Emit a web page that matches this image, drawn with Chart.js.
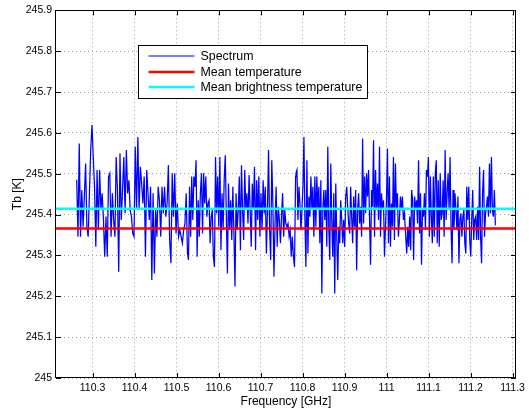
<!DOCTYPE html>
<html>
<head>
<meta charset="utf-8">
<script src="https://cdn.jsdelivr.net/npm/chart.js@4.4.1/dist/chart.umd.min.js"></script>
<style>
    html, body { margin: 0; padding: 0; background: #ffffff; }
</style>
</head>
<body>
<canvas id="spectrumChart" width="529" height="410"></canvas>
<script>
// Axis limits and tick values
const xMin = 110.213;
const xMax = 111.308;
const yMin = 245;
const yMax = 245.9;
const xTicks = [110.3, 110.4, 110.5, 110.6, 110.7, 110.8, 110.9, 111, 111.1, 111.2, 111.3];
const yTicks = [245, 245.1, 245.2, 245.3, 245.4, 245.5, 245.6, 245.7, 245.8, 245.9];

// Mean levels [K]
const meanTemperature = 245.366;
const meanBrightness = 245.414;

// Spectrum in four stretches: [start GHz, end GHz]
const partRanges = [
    [110.2623, 110.5260],
    [110.5284, 110.7834],
    [110.7843, 111.0424],
    [111.0433, 111.2590]
];

const spectrumPart1 = [
    245.485, 245.346, 245.574, 245.346, 245.460, 245.370, 245.444, 245.525, 245.370, 245.346,
    245.452, 245.558, 245.619, 245.541, 245.468, 245.321, 245.509, 245.362, 245.509, 245.411,
    245.452, 245.387, 245.297, 245.395, 245.297, 245.493, 245.501, 245.346, 245.452, 245.387,
    245.346, 245.541, 245.460, 245.260, 245.550, 245.387, 245.460, 245.541, 245.403, 245.558,
    245.452, 245.484, 245.411, 245.395, 245.354, 245.346, 245.566, 245.411, 245.590, 245.411,
    245.517, 245.476, 245.427, 245.493, 245.297, 245.509, 245.452, 245.387, 245.468, 245.240,
    245.452, 245.256, 245.411, 245.346, 245.468, 245.435, 245.346, 245.468, 245.403, 245.468,
    245.395, 245.427, 245.521, 245.338, 245.281, 245.501, 245.395, 245.501, 245.354, 245.427,
    245.346, 245.362, 245.346, 245.330, 245.362, 245.378, 245.452, 245.305
];

const spectrumPart2 = [
    245.289, 245.468, 245.346, 245.493, 245.387, 245.493, 245.468, 245.533, 245.297, 245.435,
    245.346, 245.452, 245.501, 245.354, 245.501, 245.427, 245.493, 245.395, 245.427, 245.435,
    245.330, 245.395, 245.411, 245.297, 245.272, 245.541, 245.403, 245.493, 245.370, 245.541,
    245.313, 245.452, 245.362, 245.484, 245.545, 245.395, 245.256, 245.476, 245.362, 245.435,
    245.338, 245.468, 245.354, 245.224, 245.452, 245.362, 245.411, 245.493, 245.313, 245.521,
    245.411, 245.338, 245.509, 245.411, 245.452, 245.378, 245.497, 245.411, 245.321, 245.476,
    245.411, 245.517, 245.313, 245.484, 245.387, 245.493, 245.346, 245.452, 245.362, 245.484,
    245.403, 245.468, 245.305, 245.411, 245.558, 245.362, 245.289, 245.533, 245.427, 245.248,
    245.378, 245.468, 245.321, 245.419, 245.387, 245.330, 245.395, 245.452, 245.346, 245.411,
    245.378, 245.370, 245.378, 245.346, 245.362, 245.297, 245.346, 245.297, 245.272, 245.493
];

const spectrumPart3 = [
    245.501, 245.509, 245.387, 245.468, 245.427, 245.362, 245.411, 245.468, 245.590, 245.387,
    245.272, 245.533, 245.305, 245.444, 245.395, 245.493, 245.411, 245.468, 245.346, 245.493,
    245.370, 245.493, 245.411, 245.468, 245.330, 245.484, 245.207, 245.411, 245.460, 245.387,
    245.460, 245.321, 245.566, 245.370, 245.289, 245.525, 245.387, 245.297, 245.452, 245.207,
    245.476, 245.346, 245.240, 245.370, 245.330, 245.435, 245.387, 245.330, 245.387, 245.321,
    245.444, 245.468, 245.419, 245.378, 245.354, 245.468, 245.395, 245.330, 245.444, 245.370,
    245.460, 245.264, 245.411, 245.452, 245.378, 245.419, 245.346, 245.586, 245.378, 245.493,
    245.403, 245.501, 245.444, 245.509, 245.387, 245.277, 245.460, 245.419, 245.582, 245.346,
    245.509, 245.411, 245.476, 245.387, 245.566, 245.346, 245.452, 245.411, 245.435, 245.297,
    245.370, 245.435, 245.562, 245.330, 245.493, 245.321, 245.427, 245.370, 245.541, 245.338,
    245.525, 245.411, 245.452, 245.346, 245.387, 245.444, 245.411, 245.444, 245.387, 245.403
];

const spectrumPart4 = [
    245.387, 245.346, 245.305, 245.370, 245.321, 245.395, 245.313, 245.460, 245.435, 245.289,
    245.444, 245.411, 245.435, 245.378, 245.533, 245.354, 245.452, 245.277, 245.411, 245.395,
    245.452, 245.362, 245.509, 245.493, 245.541, 245.346, 245.493, 245.395, 245.330, 245.493,
    245.346, 245.501, 245.533, 245.330, 245.484, 245.321, 245.501, 245.387, 245.403, 245.484,
    245.346, 245.558, 245.387, 245.452, 245.501, 245.411, 245.541, 245.370, 245.281, 245.460,
    245.362, 245.452, 245.411, 245.362, 245.444, 245.281, 245.387, 245.403, 245.346, 245.395,
    245.411, 245.330, 245.305, 245.468, 245.387, 245.468, 245.338, 245.297, 245.387, 245.460,
    245.338, 245.387, 245.395, 245.338, 245.419, 245.338, 245.517, 245.346, 245.281, 245.452,
    245.509, 245.346, 245.403, 245.419, 245.444, 245.395, 245.525, 245.403, 245.541, 245.411,
    245.395, 245.460, 245.374
];

// Pair each stretch of values with its frequency grid
function buildSpectrum() {
    const parts = [spectrumPart1, spectrumPart2, spectrumPart3, spectrumPart4];
    const points = [];
    parts.forEach((values, p) => {
        const start = partRanges[p][0];
        const end = partRanges[p][1];
        const step = (end - start) / (values.length - 1);
        values.forEach((v, i) => points.push({ x: start + i * step, y: v }));
    });
    return points;
}

const tickFont = { family: "'Liberation Sans', Arial, sans-serif", size: 10.5 };
const titleFont = { family: "'Liberation Sans', Arial, sans-serif", size: 12 };
const legendFont = { family: "'Liberation Sans', Arial, sans-serif", size: 12.4 };

// Box around the plot with small inward ticks on all four sides (MATLAB style)
const frameTicks = {
    id: 'frameTicks',
    afterDatasetsDraw(chart) {
        const ctx = chart.ctx;
        const area = chart.chartArea;
        const x = chart.scales.x;
        const y = chart.scales.y;
        const len = 5;
        ctx.save();
        ctx.strokeStyle = '#000000';
        ctx.lineWidth = 1;
        ctx.beginPath();
        xTicks.forEach(v => {
            const px = Math.round(x.getPixelForValue(v)) + 0.5;
            ctx.moveTo(px, area.bottom);
            ctx.lineTo(px, area.bottom - len);
            ctx.moveTo(px, area.top);
            ctx.lineTo(px, area.top + len);
        });
        yTicks.forEach(v => {
            const py = Math.round(y.getPixelForValue(v)) + 0.5;
            ctx.moveTo(area.left, py);
            ctx.lineTo(area.left + len, py);
            ctx.moveTo(area.right, py);
            ctx.lineTo(area.right - len, py);
        });
        ctx.stroke();
        ctx.strokeRect(Math.round(area.left) - 0.5, Math.round(area.top) + 0.5,
            Math.round(area.right - area.left), Math.round(area.bottom - area.top) - 1);
        ctx.restore();
    }
};

// Legend drawn inside the plot area
const innerLegend = {
    id: 'innerLegend',
    afterDraw(chart, args, opts) {
        const ctx = chart.ctx;
        const area = chart.chartArea;
        const datasets = chart.data.datasets;
        ctx.save();
        ctx.font = legendFont.size + 'px ' + legendFont.family;
        let textWidth = 0;
        datasets.forEach(ds => { textWidth = Math.max(textWidth, ctx.measureText(ds.label).width); });
        const left = Math.round(area.left + opts.offsetX) + 0.5;
        const top = Math.round(area.top + opts.offsetY) + 0.5;
        const width = opts.padLeft + opts.lineLength + opts.gap + textWidth + opts.padRight;
        const height = opts.padTop * 2 + opts.rowHeight * datasets.length;
        ctx.fillStyle = '#ffffff';
        ctx.fillRect(left, top, width, height);
        ctx.strokeStyle = '#000000';
        ctx.lineWidth = 1;
        ctx.strokeRect(left, top, Math.round(width), Math.round(height));
        ctx.textBaseline = 'middle';
        datasets.forEach((ds, i) => {
            const cy = top + opts.padTop + opts.rowHeight * (i + 0.5);
            ctx.strokeStyle = ds.legendColor || ds.borderColor;
            ctx.lineWidth = ds.legendWidth || ds.borderWidth;
            ctx.beginPath();
            ctx.moveTo(left + opts.padLeft, Math.round(cy));
            ctx.lineTo(left + opts.padLeft + opts.lineLength, Math.round(cy));
            ctx.stroke();
            ctx.fillStyle = '#000000';
            ctx.fillText(ds.label, left + opts.padLeft + opts.lineLength + opts.gap, cy + 0.5);
        });
        ctx.restore();
    }
};

const ctx = document.getElementById('spectrumChart').getContext('2d');
const chart = new Chart(ctx, {
    type: 'line',
    data: {
        datasets: [{
            label: 'Spectrum',
            data: buildSpectrum(),
            borderColor: '#0000ff',
            legendColor: '#5050ff',
            legendWidth: 1.5,
            borderWidth: 1.25,
            pointRadius: 0,
            tension: 0,
            order: 3
        }, {
            label: 'Mean temperature',
            data: [{ x: xMin, y: meanTemperature }, { x: xMax, y: meanTemperature }],
            borderColor: '#ff0000',
            borderWidth: 2.5,
            pointRadius: 0,
            order: 2
        }, {
            label: 'Mean brightness temperature',
            data: [{ x: xMin, y: meanBrightness }, { x: xMax, y: meanBrightness }],
            borderColor: '#00ffff',
            borderWidth: 2.5,
            pointRadius: 0,
            order: 1
        }]
    },
    options: {
        responsive: false,
        animation: false,
        devicePixelRatio: 1,
        events: [],
        layout: { padding: { top: 10, right: 8, left: 0, bottom: 0 } },
        plugins: {
            legend: { display: false },
            tooltip: { enabled: false },
            innerLegend: {
                offsetX: 82, offsetY: 35, padLeft: 10, padRight: 5, padTop: 3,
                lineLength: 46, gap: 6, rowHeight: 15.5
            }
        },
        scales: {
            x: {
                type: 'linear',
                min: xMin,
                max: xMax,
                afterBuildTicks: scale => { scale.ticks = xTicks.map(v => ({ value: v })); },
                afterFit: scale => { scale.height = 32; },
                ticks: {
                    color: '#000000',
                    font: tickFont,
                    padding: 4,
                    maxRotation: 0,
                    autoSkip: false,
                    callback: v => String(Number(v.toFixed(1)))
                },
                grid: { color: '#a0a0a0', lineWidth: 1, drawTicks: false },
                border: { display: false, dash: [1, 3] },
                title: { display: true, text: 'Frequency [GHz]', color: '#000000', font: titleFont, padding: { top: 0, bottom: 1 } }
            },
            y: {
                min: yMin,
                max: yMax,
                afterBuildTicks: scale => { scale.ticks = yTicks.map(v => ({ value: v })); },
                afterFit: scale => { scale.width = 56; },
                ticks: {
                    color: '#000000',
                    font: tickFont,
                    padding: 4,
                    autoSkip: false,
                    callback: v => String(Number(v.toFixed(1)))
                },
                grid: { color: '#a0a0a0', lineWidth: 1, drawTicks: false },
                border: { display: false, dash: [1, 3] },
                title: { display: true, text: 'Tb [K]', color: '#000000', font: titleFont, padding: { top: 10, bottom: 0 } }
            }
        }
    },
    plugins: [frameTicks, innerLegend]
});
</script>
</body>
</html>
